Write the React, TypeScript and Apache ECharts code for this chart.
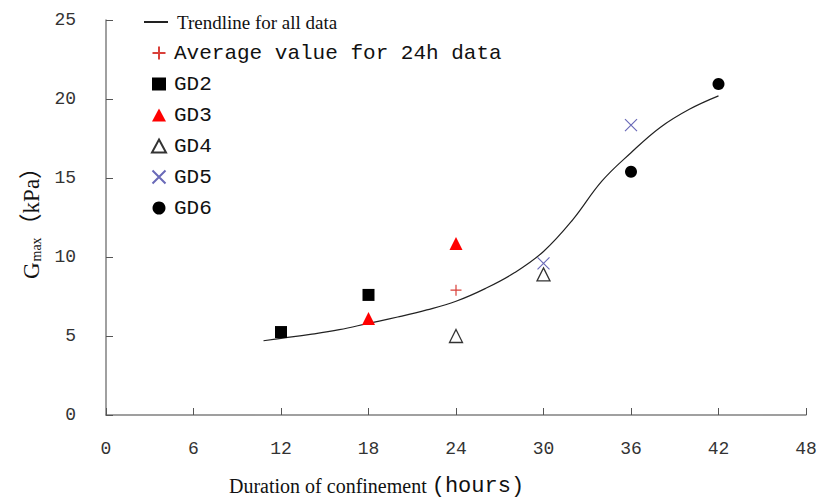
import React, { useEffect, useRef } from "react";
import * as echarts from "echarts";

const xTicks = [0, 6, 12, 18, 24, 30, 36, 42, 48];
const yTicks = [0, 5, 10, 15, 20, 25];

const trendHours = [10.8, 12, 14, 16, 18, 20, 22, 24, 26, 28, 30, 32, 34, 36, 38, 40, 42];
const trendValues = [4.7, 4.85, 5.1, 5.4, 5.8, 6.2, 6.65, 7.2, 8.0, 9.0, 10.35, 12.35, 14.8, 16.6, 18.2, 19.35, 20.2];

const avgHours = [24];
const avgValues = [7.9];

const gd2Hours = [12, 18];
const gd2Values = [5.25, 7.6];

const gd3Hours = [18, 24];
const gd3Values = [6.1, 10.85];

const gd4Hours = [24, 30];
const gd4Values = [5.0, 8.9];

const gd5Hours = [30, 36];
const gd5Values = [9.6, 18.35];

const gd6Hours = [36, 42];
const gd6Values = [15.4, 20.95];

const seriesNames = [
  "Trendline for all data",
  "Average value for 24h data",
  "GD2",
  "GD3",
  "GD4",
  "GD5",
  "GD6",
];

const pair = (xs: number[], ys: number[]) => xs.map((x, i) => [x, ys[i]]);

export default function App() {
  const ref = useRef<HTMLDivElement>(null);

  useEffect(() => {
    if (!ref.current) return;
    const chart = echarts.init(ref.current, undefined, { renderer: "svg" });
    const monoLegend = {
      fontFamily: "Liberation Mono",
      fontSize: 21,
      color: "#111",
      lineHeight: 22,
      padding: [0, 0, 0, 3],
    };
    chart.setOption({
      animation: false,
      backgroundColor: "#fff",
      grid: { left: 106, right: 21, top: 20, bottom: 87, containLabel: false },
      legend: [
        {
          orient: "vertical",
          left: 139,
          top: 6,
          itemWidth: 24,
          itemHeight: 2,
          selectedMode: false,
          icon: "rect",
          data: [
            {
              name: seriesNames[0],
              itemStyle: { color: "#222" },
              textStyle: {
                fontFamily: "Liberation Serif",
                fontSize: 19,
                color: "#111",
                lineHeight: 22,
                padding: [0, 0, 0, 4],
              },
            },
          ],
        },
        {
          orient: "vertical",
          left: 145,
          top: 37,
          itemWidth: 14,
          itemHeight: 13,
          itemGap: 9,
          selectedMode: false,
          data: seriesNames.slice(1).map((n) => ({ name: n, textStyle: monoLegend })),
        },
      ],
      xAxis: {
        type: "value",
        min: 0,
        max: 48,
        interval: 6,
        axisLine: { show: true, onZero: false, lineStyle: { color: "#808080", width: 1.5 } },
        axisTick: { show: true, inside: true, length: 7, lineStyle: { color: "#555", width: 1 } },
        axisLabel: {
          margin: 25,
          fontFamily: "Liberation Mono",
          fontSize: 18,
          color: "#333",
          formatter: (v: number) => (xTicks.includes(v) ? String(v) : ""),
        },
        splitLine: { show: false },
      },
      yAxis: {
        type: "value",
        min: 0,
        max: 25,
        interval: 5,
        axisLine: { show: true, onZero: false, lineStyle: { color: "#808080", width: 1.5 } },
        axisTick: { show: true, inside: true, length: 7, lineStyle: { color: "#555", width: 1 } },
        axisLabel: {
          margin: 30,
          fontFamily: "Liberation Mono",
          fontSize: 18,
          color: "#333",
          formatter: (v: number) => (yTicks.includes(v) ? String(v) : ""),
        },
        splitLine: { show: false },
        name: "{g|G}{sub|max}{g|（kPa）}",
        nameLocation: "middle",
        nameGap: 54,
        nameRotate: 90,
        nameTextStyle: {
          color: "#111",
          rich: {
            g: { fontFamily: "Liberation Serif, Noto Sans CJK SC", fontSize: 23, color: "#111" },
            sub: { fontFamily: "Liberation Serif", fontSize: 14, color: "#111", padding: [10, 1, 0, 1] },
          },
        },
      },
      graphic: [
        {
          type: "text",
          left: 229,
          top: 475,
          style: {
            text: "{a|Duration of confinement }{b|(hours)}",
            rich: {
              a: { fontFamily: "Liberation Serif", fontSize: 20, fill: "#111" },
              b: { fontFamily: "Liberation Mono", fontSize: 22, fill: "#111" },
            },
          },
        },
      ],
      series: [
        {
          name: seriesNames[0],
          type: "line",
          data: pair(trendHours, trendValues),
          smooth: 0.4,
          symbol: "none",
          lineStyle: { color: "#222", width: 1.2 },
          itemStyle: { color: "#222" },
          z: 1,
        },
        {
          name: seriesNames[1],
          type: "scatter",
          data: pair(avgHours, avgValues),
          symbol: "path://M5,0L5,10M0,5L10,5",
          symbolSize: 11,
          itemStyle: { color: "none", borderColor: "#d9403a", borderWidth: 1.2, opacity: 1 },
          z: 3,
        },
        {
          name: seriesNames[2],
          type: "scatter",
          data: pair(gd2Hours, gd2Values),
          symbol: "rect",
          symbolSize: 12,
          itemStyle: { color: "#000", opacity: 1 },
          z: 3,
        },
        {
          name: seriesNames[3],
          type: "scatter",
          data: pair(gd3Hours, gd3Values),
          symbol: "triangle",
          symbolSize: 13,
          itemStyle: { color: "#ff0000", opacity: 1 },
          z: 3,
        },
        {
          name: seriesNames[4],
          type: "scatter",
          data: pair(gd4Hours, gd4Values),
          symbol: "triangle",
          symbolSize: 13,
          itemStyle: { color: "#fff", borderColor: "#333", borderWidth: 1.3, opacity: 1 },
          z: 3,
        },
        {
          name: seriesNames[5],
          type: "scatter",
          data: pair(gd5Hours, gd5Values),
          symbol: "path://M0,0L10,10M10,0L0,10",
          symbolSize: 12,
          itemStyle: { color: "none", borderColor: "#6a6ab8", borderWidth: 1.2, opacity: 1 },
          z: 3,
        },
        {
          name: seriesNames[6],
          type: "scatter",
          data: pair(gd6Hours, gd6Values),
          symbol: "circle",
          symbolSize: 12,
          itemStyle: { color: "#000", opacity: 1 },
          z: 3,
        },
      ],
    });
    return () => chart.dispose();
  }, []);

  return (
    <div
      ref={ref}
      style={{ position: "fixed", left: 0, top: 0, width: 827, height: 502, background: "#fff" }}
    />
  );
}
